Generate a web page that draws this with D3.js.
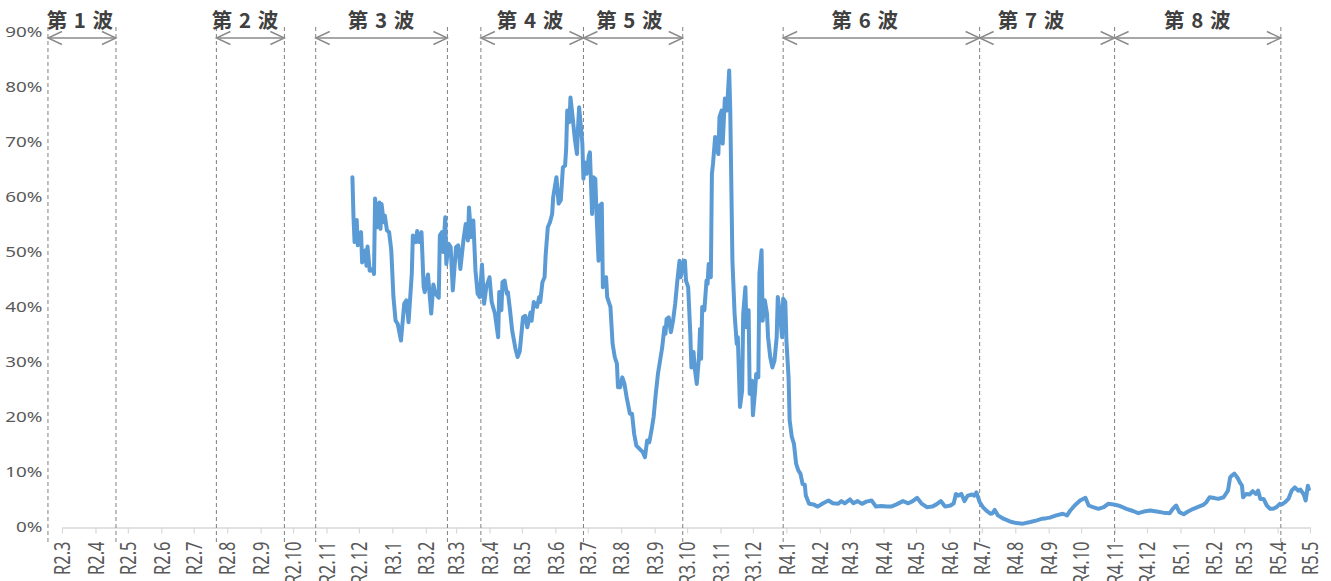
<!DOCTYPE html>
<html><head><meta charset="utf-8">
<script src="https://cdn.jsdelivr.net/npm/d3@7"></script>
<style>html,body{margin:0;padding:0;background:#fff;overflow:hidden}</style>
</head><body><svg id="c" width="1331" height="581"></svg>
<script>
const dates = ["2020-11-25","2020-11-26","2020-11-27","2020-11-29","2020-11-30","2020-12-03","2020-12-04","2020-12-07","2020-12-08","2020-12-09","2020-12-11","2020-12-14","2020-12-15","2020-12-16","2020-12-18","2020-12-20","2020-12-21","2020-12-22","2020-12-24","2020-12-25","2020-12-27","2020-12-29","2020-12-31",
"2021-01-02","2021-01-04","2021-01-06","2021-01-09","2021-01-12","2021-01-14","2021-01-16","2021-01-19","2021-01-20","2021-01-23","2021-01-24","2021-01-26","2021-01-28","2021-01-30","2021-01-31",
"2021-02-03","2021-02-06","2021-02-08","2021-02-10","2021-02-13","2021-02-14","2021-02-16","2021-02-17","2021-02-19","2021-02-20","2021-02-22","2021-02-24","2021-02-26",
"2021-03-01","2021-03-03","2021-03-05","2021-03-08","2021-03-10","2021-03-12","2021-03-13","2021-03-15","2021-03-17","2021-03-19","2021-03-21","2021-03-23","2021-03-25","2021-03-27","2021-03-29",
"2021-04-01","2021-04-03","2021-04-06","2021-04-09","2021-04-10","2021-04-12","2021-04-13","2021-04-15","2021-04-17","2021-04-18","2021-04-20","2021-04-22","2021-04-25","2021-04-27","2021-04-29",
"2021-05-02","2021-05-04","2021-05-06","2021-05-09","2021-05-10","2021-05-12","2021-05-15","2021-05-17","2021-05-18","2021-05-20","2021-05-22","2021-05-23","2021-05-25","2021-05-27","2021-05-29","2021-05-30",
"2021-06-02","2021-06-03","2021-06-04","2021-06-06","2021-06-08","2021-06-10","2021-06-11","2021-06-12","2021-06-14","2021-06-15","2021-06-17","2021-06-19","2021-06-21","2021-06-22","2021-06-23","2021-06-25","2021-06-26","2021-06-27","2021-06-28","2021-06-30",
"2021-07-02","2021-07-03","2021-07-05","2021-07-06","2021-07-08","2021-07-09","2021-07-11","2021-07-12","2021-07-14","2021-07-15","2021-07-18","2021-07-19","2021-07-22","2021-07-24","2021-07-26","2021-07-28","2021-07-29","2021-07-31",
"2021-08-02","2021-08-04","2021-08-06","2021-08-09","2021-08-11","2021-08-13","2021-08-15","2021-08-18","2021-08-21","2021-08-23","2021-08-25","2021-08-27","2021-08-29","2021-08-31",
"2021-09-02","2021-09-04","2021-09-07","2021-09-08","2021-09-10","2021-09-11","2021-09-12","2021-09-14","2021-09-16","2021-09-18","2021-09-20","2021-09-22","2021-09-24","2021-09-25","2021-09-28","2021-09-29","2021-09-30",
"2021-10-02","2021-10-04","2021-10-05","2021-10-07","2021-10-08","2021-10-10","2021-10-12","2021-10-13","2021-10-14","2021-10-15","2021-10-17","2021-10-19","2021-10-20","2021-10-21","2021-10-23","2021-10-24","2021-10-25","2021-10-27","2021-10-28","2021-10-30","2021-10-31",
"2021-11-02","2021-11-03","2021-11-05","2021-11-07","2021-11-09","2021-11-10","2021-11-12","2021-11-14","2021-11-16","2021-11-17","2021-11-19","2021-11-21","2021-11-22","2021-11-24","2021-11-25","2021-11-27","2021-11-28","2021-11-30",
"2021-12-01","2021-12-03","2021-12-04","2021-12-06","2021-12-07","2021-12-09","2021-12-10","2021-12-12","2021-12-14","2021-12-15","2021-12-17","2021-12-19","2021-12-21","2021-12-23","2021-12-24","2021-12-26","2021-12-28","2021-12-29","2021-12-31",
"2022-01-01","2022-01-03","2022-01-04","2022-01-06","2022-01-08","2022-01-10","2022-01-12","2022-01-14","2022-01-16","2022-01-18","2022-01-19","2022-01-22","2022-01-26","2022-01-30",
"2022-02-04","2022-02-09","2022-02-13","2022-02-18","2022-02-21","2022-02-24",
"2022-03-01","2022-03-04","2022-03-08","2022-03-12","2022-03-16","2022-03-21","2022-03-25","2022-03-30",
"2022-04-04","2022-04-08","2022-04-13","2022-04-19","2022-04-24","2022-04-28",
"2022-05-02","2022-05-06","2022-05-11","2022-05-16","2022-05-20","2022-05-24","2022-05-28",
"2022-06-02","2022-06-05","2022-06-07","2022-06-09","2022-06-12","2022-06-15","2022-06-18","2022-06-22","2022-06-24","2022-06-26","2022-06-29",
"2022-07-02","2022-07-05","2022-07-09","2022-07-11","2022-07-13","2022-07-16","2022-07-21","2022-07-27",
"2022-08-02","2022-08-08","2022-08-15","2022-08-21","2022-08-26","2022-08-30",
"2022-09-02","2022-09-08","2022-09-14","2022-09-18","2022-09-21","2022-09-25","2022-09-30",
"2022-10-05","2022-10-08","2022-10-12","2022-10-17","2022-10-22","2022-10-26","2022-10-31",
"2022-11-06","2022-11-12","2022-11-18","2022-11-23","2022-11-28",
"2022-12-04","2022-12-10","2022-12-16","2022-12-22","2022-12-25","2022-12-28","2022-12-31",
"2023-01-04","2023-01-08","2023-01-13","2023-01-18","2023-01-22","2023-01-25","2023-01-28","2023-01-31",
"2023-02-05","2023-02-10","2023-02-14","2023-02-16","2023-02-18","2023-02-20","2023-02-23","2023-02-25","2023-02-27","2023-02-28",
"2023-03-03","2023-03-06","2023-03-09","2023-03-12","2023-03-14","2023-03-16","2023-03-19","2023-03-22","2023-03-25","2023-03-28","2023-03-31",
"2023-04-03","2023-04-05","2023-04-08","2023-04-11","2023-04-14","2023-04-17","2023-04-20","2023-04-22","2023-04-25","2023-04-27","2023-04-29","2023-04-30"];

const values = [63.7,56.4,51.9,55.9,51.3,53.7,48.2,50.4,47.6,51.1,46.7,47.0,46.1,59.8,54.6,59.1,54.3,58.8,55.5,56.7,54.0,53.7,50.4,
41.9,37.6,37.0,34.0,40.7,41.3,37.3,46.1,53.1,51.9,53.9,51.9,53.7,43.7,42.8,
46.0,38.9,44.2,42.5,41.8,53.1,53.7,50.1,56.4,47.9,51.6,51.0,43.1,
51.0,51.3,47.0,52.5,55.2,52.2,58.2,52.8,55.8,46.7,42.5,41.9,47.8,40.7,43.7,
45.5,41.0,38.9,34.6,42.8,39.5,44.6,44.9,42.5,42.8,39.5,35.8,32.5,31.0,32.0,
38.2,38.5,36.4,39.1,37.6,41.0,40.1,41.9,41.0,44.6,45.5,49.5,54.6,55.5,57.0,60.1,
63.7,61.3,58.9,59.5,65.5,65.8,68.9,75.8,73.7,78.2,74.6,70.7,67.9,72.8,76.4,72.2,69.8,63.4,66.4,64.3,
67.6,68.2,57.0,63.7,63.4,57.6,48.5,58.5,58.9,43.7,45.5,41.9,40.1,33.4,31.0,29.8,25.5,25.5,
27.3,26.1,23.7,20.7,20.7,17.0,14.9,14.3,13.7,12.8,15.8,15.5,17.6,20.1,
24.3,27.9,31.6,32.8,36.4,35.2,37.9,38.2,35.5,37.6,40.7,44.9,48.5,45.5,48.5,48.5,44.9,
43.7,35.2,29.1,31.9,29.1,26.1,31.0,36.1,30.7,40.1,39.5,44.9,44.3,47.9,45.5,64.3,66.1,71.0,69.1,67.9,74.6,
75.8,69.8,78.0,75.8,83.1,75.8,48.5,38.9,33.4,34.6,21.9,24.9,38.9,43.7,36.4,39.5,24.3,26.7,
20.4,24.9,27.9,27.3,46.1,50.4,37.6,41.3,38.9,34.6,31.0,29.1,30.4,34.6,41.9,38.9,34.6,41.6,41.0,
34.0,27.3,19.5,16.5,15.2,11.6,10.4,9.8,7.9,7.8,5.8,4.3,4.2,3.8,
4.4,4.9,4.4,4.3,4.8,4.4,
5.1,4.4,4.8,4.3,4.7,4.9,3.8,3.9,
3.8,3.8,4.2,4.8,4.4,4.8,
5.4,4.4,3.7,3.8,4.2,4.8,3.8,
4.0,4.4,6.1,5.8,6.1,4.8,5.8,6.0,5.8,6.4,4.6,
3.7,3.1,2.5,2.6,3.2,2.2,1.6,1.1,
0.8,0.7,1.0,1.3,1.6,1.7,
1.8,2.2,2.5,2.2,3.1,4.0,4.9,
5.4,4.0,3.7,3.4,3.7,4.3,4.2,
3.9,3.4,3.0,2.6,2.9,
3.1,2.9,2.7,2.6,3.4,4.0,2.8,
2.4,2.9,3.4,3.8,4.1,4.6,5.5,5.4,
5.2,5.5,6.7,9.1,9.5,9.8,9.0,8.2,7.6,5.5,
6.1,6.0,6.6,6.1,6.7,5.2,5.2,4.0,3.4,3.4,3.7,
4.3,4.2,4.6,5.2,6.7,7.3,6.7,6.9,6.1,4.9,7.6,7.0];

const yTicks = [0,10,20,30,40,50,60,70,80,90];
const yTickLabels = ["0%","10%","20%","30%","40%","50%","60%","70%","80%","90%"];
const xTickLabels = ["R2.3","R2.4","R2.5","R2.6","R2.7","R2.8","R2.9","R2.10","R2.11","R2.12",
"R3.1","R3.2","R3.3","R3.4","R3.5","R3.6","R3.7","R3.8","R3.9","R3.10","R3.11","R3.12",
"R4.1","R4.2","R4.3","R4.4","R4.5","R4.6","R4.7","R4.8","R4.9","R4.10","R4.11","R4.12",
"R5.1","R5.2","R5.3","R5.4","R5.5"];
const waveLabels = ["第 1 波","第 2 波","第 3 波","第 4 波","第 5 波","第 6 波","第 7 波","第 8 波"];
const waveStarts = ["2020-02-17","2020-07-22","2020-10-22","2021-03-24","2021-06-27","2021-12-29","2022-06-29","2022-11-01"];
const waveEnds   = ["2020-04-20","2020-09-23","2021-02-21","2021-06-27","2021-09-27","2022-06-29","2022-11-01","2023-04-04"];
const waveLabelDates = ["2020-03-18","2020-08-18","2020-12-22","2021-05-09","2021-08-09","2022-03-15","2022-08-16","2023-01-17"];

const parse = d3.utcParse("%Y-%m-%d");
const svg = d3.select("#c");
svg.append("rect").attr("width",1331).attr("height",581).attr("fill","#fff");

const x = d3.scaleUtc().domain([parse("2020-03-01"), parse("2023-05-01")]).range([62, 1310]);
const y = d3.scaleLinear().domain([0, 90]).range([527.5, 32.5]);

const latinFont = "'Noto Sans', 'Open Sans', sans-serif";

// x axis
const tickDates = d3.utcMonth.range(parse("2020-03-01"), parse("2023-05-02"));
const xAxis = d3.axisBottom(x).tickValues(tickDates)
  .tickFormat((d,i) => xTickLabels[i]).tickSize(6).tickSizeOuter(0);
const gx = svg.append("g").attr("transform","translate(0,527.5)").call(xAxis);
gx.select(".domain").attr("stroke","#d9d9d9").attr("stroke-width",1.5);
gx.selectAll(".tick line").attr("stroke","#d9d9d9").attr("stroke-width",1.2);
gx.selectAll(".tick text")
  .attr("x",0).attr("y",0).attr("dy","0.36em")
  .attr("transform","translate(0,14) scale(1.3,1) rotate(-90)")
  .attr("text-anchor","end")
  .attr("fill","#595959").style("font-family",latinFont).style("font-size","16.5px");

// y axis (labels only)
const yAxis = d3.axisLeft(y).tickValues(yTicks).tickFormat((d,i)=>yTickLabels[i]).tickSize(0).tickPadding(0);
const gy = svg.append("g").attr("transform","translate(42.5,0)").call(yAxis);
gy.select(".domain").remove();
gy.selectAll(".tick text")
  .attr("x",0).attr("dy","0.3em")
  .attr("transform","scale(1.3,1)")
  .attr("text-anchor","end")
  .attr("fill","#595959").style("font-family",latinFont).style("font-size","14.5px");

// wave dashed lines
const bounds = Array.from(new Set(waveStarts.concat(waveEnds)));
svg.append("g").selectAll("line").data(bounds).join("line")
  .attr("x1",d=>x(parse(d))).attr("x2",d=>x(parse(d)))
  .attr("y1",27).attr("y2",545)
  .attr("stroke","#7f7f7f").attr("stroke-width",1).attr("stroke-dasharray","4,3");

// arrows
const ag = svg.append("g").attr("stroke","#8a8a8a").attr("stroke-width",1.4).attr("fill","none");
const ay = 38, ah = 14, aw = 6.5;
waveLabels.forEach((lab,i)=>{
  const x0 = x(parse(waveStarts[i])), x1 = x(parse(waveEnds[i]));
  ag.append("line").attr("x1",x0).attr("x2",x1).attr("y1",ay).attr("y2",ay);
  ag.append("path").attr("d",`M${x0+ah},${ay-aw}L${x0},${ay}L${x0+ah},${ay+aw}`);
  ag.append("path").attr("d",`M${x1-ah},${ay-aw}L${x1},${ay}L${x1-ah},${ay+aw}`);
});

// wave labels
svg.append("g").selectAll("text").data(waveLabels).join("text")
  .attr("x",(d,i)=>x(parse(waveLabelDates[i]))).attr("y",28)
  .attr("text-anchor","middle")
  .attr("fill","#404040")
  .style("font-family","'Noto Sans CJK JP', sans-serif")
  .style("font-weight","bold").style("font-size","20.5px")
  .style("letter-spacing","1px")
  .text(d=>d);

// line
const data = dates.map((d,i)=>({date:parse(d), v:values[i]}));
svg.append("path").datum(data)
  .attr("fill","none").attr("stroke","#5b9bd5").attr("stroke-width",4)
  .attr("stroke-linejoin","round").attr("stroke-linecap","round")
  .attr("d", d3.line().x(d=>x(d.date)).y(d=>y(d.v)));
</script>
</body></html>
